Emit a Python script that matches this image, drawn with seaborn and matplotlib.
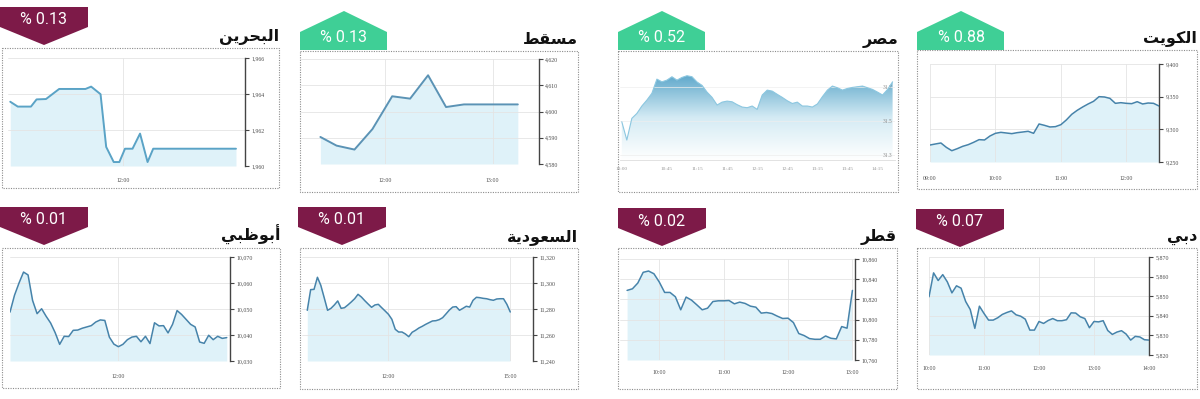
import numpy as np
import matplotlib
matplotlib.use("Agg")
import matplotlib.pyplot as plt
from matplotlib.patches import Polygon, Rectangle
from matplotlib.colors import LinearSegmentedColormap
from matplotlib.ticker import FuncFormatter
import seaborn as sns

W, H = 1200, 399

# Arabic titles, written in presentation forms (visual order) because
# matplotlib does no Arabic shaping on its own
title_bahrain = "\uFEE6\uFEF3\uFEAE\uFEA4\uFE92\uFEDF\uFE8D"          # البحرين
title_muscat = "\uFEC2\uFED8\uFEB4\uFEE3"                             # مسقط
title_egypt = "\uFEAE\uFEBC\uFEE3"                                    # مصر
title_kuwait = "\uFE96\uFEF3\uFEEE\uFEDC\uFEDF\uFE8D"                 # الكويت
title_abudhabi = "\uFEF2\uFE92\uFEC7\uFEEE\uFE91\uFE83"               # أبوظبي
title_saudi = "\uFE94\uFEF3\uFEA9\uFEEE\uFECC\uFEB4\uFEDF\uFE8D"      # السعودية
title_qatar = "\uFEAE\uFEC4\uFED7"                                    # قطر
title_dubai = "\uFEF2\uFE91\uFEA9"                                    # دبي

# daily change badges
changes = ["0.13", "0.13", "0.52", "0.88", "0.01", "0.01", "0.02", "0.07"]
directions = ["down", "up", "up", "up", "down", "down", "down", "down"]

# sparse series (time, value)
bahrain_times = ["11:00", "11:04", "11:11", "11:14", "11:19", "11:26", "11:40", "11:43", "11:48",
                 "11:51", "11:55", "11:58", "12:01", "12:05", "12:09", "12:13", "12:16", "13:00"]
bahrain_values = [1963.57, 1963.30, 1963.30, 1963.70, 1963.72, 1964.28, 1964.28, 1964.41, 1963.99,
                  1961.06, 1960.22, 1960.22, 1960.96, 1960.96, 1961.80, 1960.22, 1960.96, 1960.96]

muscat_times = ["11:24", "11:33", "11:43", "11:53", "12:04", "12:14", "12:24", "12:34", "12:44", "13:14"]
muscat_values = [4590.3, 4587.0, 4585.5, 4593.3, 4605.8, 4604.9, 4613.8, 4601.7, 4602.7, 4602.7]

# dense series, one value every 5 minutes from the start time
egypt_start = "10:00"
egypt_values = [31497, 31389, 31517, 31546, 31590, 31625, 31665, 31749, 31733, 31743,
                31763, 31743, 31759, 31769, 31763, 31732, 31712, 31672, 31641, 31596,
                31613, 31619, 31615, 31598, 31584, 31580, 31590, 31570, 31655, 31684,
                31678, 31659, 31641, 31621, 31605, 31613, 31590, 31590, 31584, 31602,
                31645, 31684, 31708, 31698, 31684, 31694, 31700, 31704, 31708, 31698,
                31688, 31672, 31655, 31688, 31733]

kuwait_start = "09:00"
kuwait_values = [9276.0, 9277.6, 9279.1, 9272.4, 9267.3, 9270.4, 9274.0, 9276.5, 9280.1, 9284.2,
                 9283.7, 9289.8, 9293.9, 9295.4, 9294.4, 9293.4, 9294.9, 9295.9, 9297.0, 9293.9,
                 9308.2, 9306.1, 9303.6, 9304.1, 9307.1, 9314.3, 9323.0, 9329.1, 9334.2, 9338.8,
                 9342.9, 9350.0, 9349.5, 9347.4, 9339.8, 9340.8, 9339.8, 9339.3, 9342.3, 9338.8,
                 9340.3, 9339.8, 9335.7]

abudhabi_start = "10:00"
abudhabi_values = [10048.8, 10055.3, 10060.0, 10064.2, 10063.1, 10053.3, 10048.2, 10050.1, 10047.2, 10044.6,
                   10040.9, 10036.4, 10039.5, 10039.4, 10041.8, 10041.9, 10042.6, 10043.1, 10043.6, 10045.0,
                   10045.8, 10045.6, 10039.2, 10036.5, 10035.5, 10036.4, 10038.2, 10039.2, 10039.5, 10037.4,
                   10039.5, 10036.7, 10044.7, 10043.5, 10043.6, 10040.8, 10044.1, 10049.4, 10047.9, 10046.0,
                   10044.1, 10043.1, 10037.3, 10036.8, 10039.9, 10038.2, 10039.5, 10038.7, 10039.0]

saudi_start = "10:00"
saudi_values = [11279.0, 11294.9, 11295.1, 11304.4, 11298.2, 11288.7, 11279.0, 11280.5, 11283.1, 11286.2,
                11280.5, 11281.0, 11283.1, 11285.4, 11287.9, 11291.3, 11289.2, 11286.4, 11283.8, 11281.3,
                11283.1, 11283.6, 11281.0, 11278.5, 11275.9, 11272.1, 11264.4, 11262.3, 11262.3, 11260.8,
                11258.7, 11262.1, 11263.6, 11265.4, 11266.7, 11268.2, 11269.5, 11270.8, 11271.0, 11271.8,
                11273.3, 11276.2, 11279.2, 11281.5, 11281.8, 11279.0, 11280.5, 11282.1, 11281.5, 11286.7,
                11289.0, 11288.7, 11288.2, 11287.9, 11287.2, 11286.7, 11287.7, 11287.9, 11287.9, 11283.6,
                11277.7]

qatar_start = "09:30"
qatar_values = [10828.9, 10830.5, 10836.2, 10846.8, 10848.1, 10845.4, 10837.2, 10826.9, 10826.9, 10822.6,
                10809.7, 10822.3, 10819.3, 10814.6, 10809.7, 10811.3, 10817.9, 10818.6, 10818.6, 10818.9,
                10815.6, 10817.3, 10816.0, 10813.3, 10812.3, 10806.4, 10807.0, 10806.0, 10803.4, 10801.1,
                10801.4, 10797.1, 10786.2, 10784.2, 10781.2, 10780.5, 10780.5, 10783.8, 10781.5, 10780.9,
                10793.1, 10791.5, 10828.9]

dubai_start = "10:00"
dubai_values = [5849.7, 5861.9, 5858.0, 5861.0, 5857.3, 5851.7, 5855.3, 5854.1, 5847.3, 5843.2,
                5833.6, 5844.9, 5841.2, 5837.8, 5837.8, 5839.0, 5840.7, 5841.7, 5842.5, 5840.5,
                5839.8, 5838.3, 5832.7, 5832.7, 5837.1, 5836.1, 5837.6, 5838.6, 5837.5, 5837.5,
                5838.0, 5841.5, 5841.4, 5839.5, 5838.6, 5833.9, 5837.1, 5836.9, 5837.5, 5832.5,
                5830.5, 5831.7, 5832.4, 5830.7, 5827.6, 5829.5, 5829.2, 5827.8, 5827.6]

# axis ticks
bahrain_yticks = [1960, 1962, 1964, 1966]
muscat_yticks = [4580, 4590, 4600, 4610, 4620]
egypt_yticks = [31300, 31500, 31700]
kuwait_yticks = [9250, 9300, 9350, 9400]
abudhabi_yticks = [10030, 10040, 10050, 10060, 10070]
saudi_yticks = [11240, 11260, 11280, 11300, 11320]
qatar_yticks = [10760, 10780, 10800, 10820, 10840, 10860]
dubai_yticks = [5820, 5830, 5840, 5850, 5860, 5870]

bahrain_xticks = ["12:00"]
muscat_xticks = ["12:00", "13:00"]
egypt_xticks = ["10:00", "10:45", "11:15", "11:45", "12:15", "12:45", "13:15", "13:45", "14:15"]
kuwait_xticks = ["09:00", "10:00", "11:00", "12:00"]
abudhabi_xticks = ["12:00"]
saudi_xticks = ["12:00", "15:00"]
qatar_xticks = ["10:00", "11:00", "12:00", "13:00"]
dubai_xticks = ["10:00", "11:00", "12:00", "13:00", "14:00"]


def hours(hhmm):
    h, m = hhmm.split(":")
    return int(h) + int(m) / 60


def every5(start, values):
    return hours(start) + np.arange(len(values)) * 5 / 60


GREEN = "#3fcf96"
MAROON = "#7d1a48"
LINE = "#4683aa"
FILL = "#dff2f9"

sns.set_theme(style="white")
plt.rcParams["font.family"] = ["DejaVu Sans"]

fig = plt.figure(figsize=(W / 100, H / 100), dpi=100)
bg = fig.add_axes([0, 0, 1, 1])
bg.set_xlim(0, W)
bg.set_ylim(H, 0)
bg.axis("off")

panels = [
    dict(title=title_bahrain, x=[hours(t) for t in bahrain_times], y=bahrain_values,
         yticks=bahrain_yticks, xticks=bahrain_xticks,
         box=(2, 48, 279, 188), ax=(8, 58, 245, 166), xlim=(10.98, 13.08), lab_y=181,
         badge=(0, 7), lw=1.4, color="#5aa3c6"),
    dict(title=title_muscat, x=[hours(t) for t in muscat_times], y=muscat_values,
         yticks=muscat_yticks, xticks=muscat_xticks,
         box=(300, 51, 578, 192), ax=(301, 59, 539, 164), xlim=(11.22, 13.43), lab_y=180,
         badge=(300, 50), lw=1.4, color="#5b93b5"),
    dict(title=title_egypt, x=every5(egypt_start, egypt_values), y=egypt_values,
         yticks=egypt_yticks, xticks=egypt_xticks,
         box=(618, 51, 898, 192), ax=(620, 60, 895, 160), xlim=(9.97, 14.54), lab_y=169,
         badge=(618, 50), lw=0.8, color="#8cc7e0", ylim=(31271, 31862)),
    dict(title=title_kuwait, x=every5(kuwait_start, kuwait_values), y=kuwait_values,
         yticks=kuwait_yticks, xticks=kuwait_xticks,
         box=(917, 50, 1197, 189), ax=(930, 64, 1159, 162), xlim=(9.0, 12.5), lab_y=178,
         badge=(917, 50), lw=1.1, color=LINE),
    dict(title=title_abudhabi, x=every5(abudhabi_start, abudhabi_values), y=abudhabi_values,
         yticks=abudhabi_yticks, xticks=abudhabi_xticks,
         box=(2, 248, 280, 388), ax=(10, 257, 230, 361), xlim=(10.0, 14.06), lab_y=376,
         badge=(0, 207), lw=1.1, color=LINE),
    dict(title=title_saudi, x=every5(saudi_start, saudi_values), y=saudi_values,
         yticks=saudi_yticks, xticks=saudi_xticks,
         box=(300, 248, 578, 389), ax=(302, 257, 533, 361), xlim=(9.87, 15.56), lab_y=376,
         badge=(298, 207), lw=1.1, color=LINE),
    dict(title=title_qatar, x=every5(qatar_start, qatar_values), y=qatar_values,
         yticks=qatar_yticks, xticks=qatar_xticks,
         box=(618, 248, 897, 389), ax=(620, 259, 855, 360), xlim=(9.39, 13.04), lab_y=373,
         badge=(618, 208), lw=1.1, color=LINE),
    dict(title=title_dubai, x=every5(dubai_start, dubai_values), y=dubai_values,
         yticks=dubai_yticks, xticks=dubai_xticks,
         box=(917, 248, 1197, 389), ax=(929, 257, 1149, 355), xlim=(10.0, 14.0), lab_y=368,
         badge=(916, 209), lw=1.1, color=LINE),
]

tick_font = dict(family="Liberation Serif", size=4.2, color="#4d4d4d")
comma = FuncFormatter(lambda v, p: f"{v:,.0f}")

for i, p in enumerate(panels):
    bl, bt, br, bb = p["box"]
    # dotted frame
    bg.add_patch(Rectangle((bl, bt), br - bl, bb - bt, fill=False, ec="#8c8c8c",
                           lw=0.8, ls=(0, (1, 1.2))))
    # title
    bg.text(br, bt - 7, p["title"], ha="right", va="baseline", fontsize=11.5,
            fontweight="bold", color="#111111", family="DejaVu Sans")
    # change badge
    L, Y = p["badge"]
    if directions[i] == "down":
        pts = [(L, Y), (L + 88, Y), (L + 88, Y + 20), (L + 44, Y + 38), (L, Y + 20)]
        ty, col = Y + 13, MAROON
    else:
        pts = [(L, Y), (L + 87, Y), (L + 87, Y - 18), (L + 44, Y - 39), (L, Y - 18)]
        ty, col = Y - 13, GREEN
    bg.add_patch(Polygon(pts, closed=True, fc=col, ec="none"))
    bg.text(L + 44, ty, "% " + changes[i], ha="center", va="center", color="white",
            fontsize=11.5, family="Roboto")

    al, at, ar, ab = p["ax"]
    ax = fig.add_axes([al / W, 1 - ab / H, (ar - al) / W, (ab - at) / H])
    ax.set_facecolor("none")
    x = np.asarray(p["x"])
    y = np.asarray(p["y"], dtype=float)
    ylim = p.get("ylim", (p["yticks"][0], p["yticks"][-1]))
    xt = [hours(t) for t in p["xticks"]]

    if p["title"] == title_egypt:
        # gradient area
        cmap = LinearSegmentedColormap.from_list("eg", ["#ffffff", "#d4ebf4", "#5fa8cb"])
        grad = np.linspace(0, 1, 256).reshape(-1, 1)
        im = ax.imshow(grad, extent=[p["xlim"][0], p["xlim"][1], ylim[0], y.max()],
                       origin="lower", aspect="auto", cmap=cmap, zorder=1)
        poly = ax.fill_between(x, y, ylim[0], facecolor="none", edgecolor="none")
        im.set_clip_path(poly.get_paths()[0], transform=ax.transData)
        sns.lineplot(x=x, y=y, ax=ax, color=p["color"], linewidth=p["lw"], zorder=3)
        for s in ["top", "left", "right"]:
            ax.spines[s].set_visible(False)
        ax.spines["bottom"].set_color("#dddddd")
        ax.spines["bottom"].set_linewidth(0.6)
        ax.set_yticks(p["yticks"])
        ax.yaxis.set_major_formatter(FuncFormatter(lambda v, q: f"{v / 1000:.1f}"))
        ax.yaxis.tick_right()
        ax.tick_params(axis="y", length=0, pad=-9, labelsize=4, labelcolor="#8a8a8a")
        ax.set_xticks(xt)
        ax.set_xticklabels(p["xticks"])
        ax.tick_params(axis="x", length=0, pad=(p["lab_y"] - ab - 2) * 0.72,
                       labelsize=3.8, labelcolor="#9a9a9a")
        ax.grid(True, axis="y", color="#eeeeee", lw=0.5)
        ax.set_axisbelow(False)
    else:
        ax.fill_between(x, y, ylim[0], color=FILL, lw=0, zorder=1)
        sns.lineplot(x=x, y=y, ax=ax, color=p["color"], linewidth=p["lw"], zorder=3)
        for s in ["top", "left", "bottom"]:
            ax.spines[s].set_visible(False)
        ax.spines["right"].set_color("#444444")
        ax.spines["right"].set_linewidth(1.0)
        ax.set_yticks(p["yticks"])
        ax.yaxis.set_major_formatter(comma)
        ax.yaxis.tick_right()
        ax.tick_params(axis="y", direction="out", length=3, width=0.8, color="#444444",
                       pad=1.5, labelsize=tick_font["size"], labelcolor=tick_font["color"])
        ax.set_xticks(xt)
        ax.set_xticklabels(p["xticks"])
        ax.tick_params(axis="x", length=0, pad=(p["lab_y"] - ab - 2.5) * 0.72,
                       labelsize=tick_font["size"], labelcolor=tick_font["color"])
        ax.grid(True, color="#e4e4e4", lw=0.6)
        ax.set_axisbelow("line")
    for lab in ax.get_xticklabels() + ax.get_yticklabels():
        lab.set_family("Liberation Serif")
    ax.set_xlim(*p["xlim"])
    ax.set_ylim(*ylim)
    ax.set_xlabel("")
    ax.set_ylabel("")

fig.savefig("out.png", dpi=100, facecolor="white")
